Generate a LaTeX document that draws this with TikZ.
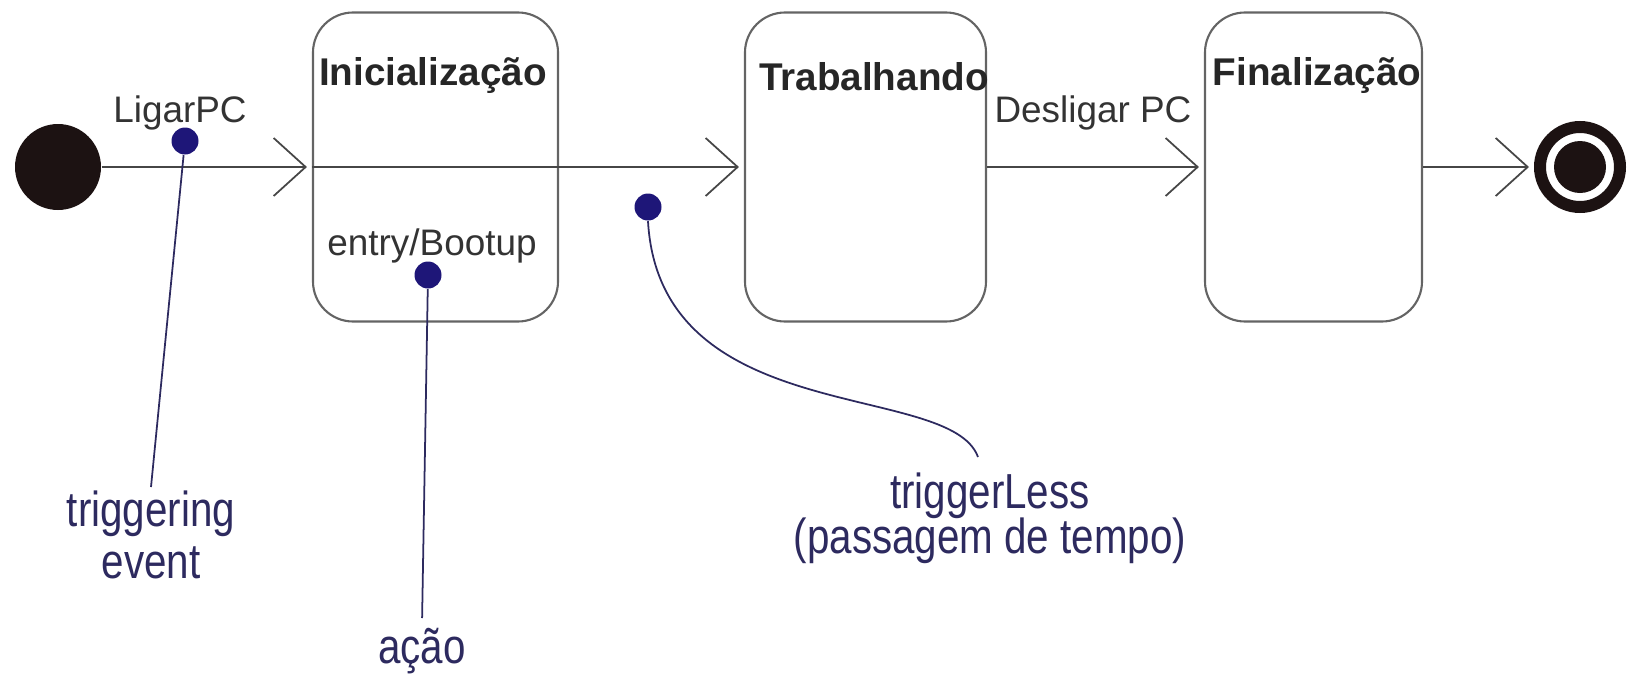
\documentclass[tikz,border=0pt]{standalone}
\usepackage{fontspec}
\setmainfont{Liberation Sans}
\newfontfamily\notefont[FakeStretch=0.82]{Liberation Sans}
\definecolor{statedark}{RGB}{28, 18, 18}
\definecolor{dotblue}{RGB}{30, 22, 120}
\definecolor{notenavy}{RGB}{45, 42, 95}
\definecolor{linegray}{RGB}{70, 70, 70}
\definecolor{boxgray}{RGB}{100, 100, 100}
\usetikzlibrary{arrows.meta, positioning, calc}

\begin{document}
\begin{tikzpicture}[
    statebox/.style={draw=boxgray, line width=0.6pt, rounded corners=0.4cm, minimum height=3.09cm, inner sep=0pt},
    statename/.style={font=\fontsize{11}{13}\selectfont\bfseries, text=black!85, anchor=base, inner sep=0pt},
    evtext/.style={font=\fontsize{10.5}{12.6}\selectfont, text=black!80, anchor=base, inner sep=0pt},
    notedot/.style={circle, fill=dotblue, minimum size=0.27cm, inner sep=0pt},
    note/.style={font=\notefont\fontsize{14}{14.7}\selectfont, text=notenavy, align=center, inner sep=1pt, anchor=north},
    trans/.style={draw=linegray, line width=0.5pt, -{Straight Barb[length=0.32cm, width=0.58cm]}, shorten >=0.05cm},
    noteline/.style={draw=notenavy, line width=0.5pt}
  ]
  \useasboundingbox (0, 0) rectangle (16.27, -6.75);

  % States
  \node[circle, fill=statedark, minimum size=0.86cm, inner sep=0pt] (start) at (0.58, -1.67) {};
  \node[statebox, minimum width=2.45cm] (ini) at (4.355, -1.67) {};
  \node[statebox, minimum width=2.41cm] (trab) at (8.655, -1.67) {};
  \node[statebox, minimum width=2.17cm] (fin) at (13.135, -1.67) {};
  \node[circle, draw=statedark, line width=0.12cm, minimum size=0.80cm, inner sep=0pt] (stop) at (15.80, -1.67) {};
  \fill[statedark] (stop.center) circle (0.26cm);

  \node[statename] (iniName) at (4.33, -0.85) {Inicialização};
  \node[statename] (trabName) at (8.74, -0.90) {Trabalhando};
  \node[statename] (finName) at (13.17, -0.85) {Finalização};
  \node[evtext] (entry) at (4.32, -2.55) {entry/Bootup};

  % Transitions
  \node[evtext] (ligar) at (1.80, -1.22) {LigarPC};
  \node[evtext] (desligar) at (10.93, -1.22) {Desligar PC};
  \draw[trans] (start) -- (ini.west);
  \draw[trans] (ini.west) -- (trab.west);
  \draw[trans] (trab.east) -- (fin.west);
  \draw[trans] (fin.east) -- (stop);

  % Notes
  \node[notedot] (ligDot) at (1.85, -1.41) {};
  \node[notedot] (entDot) at (4.28, -2.75) {};
  \node[notedot] (tlDot) at (6.48, -2.07) {};

  \node[note] (trigEv) at (1.51, -4.87) {triggering\\event};
  \node[note] (acao) at (4.22, -6.24) {ação};
  \node[note] (trigLess) at (9.90, -4.69) {triggerLess\\[-2pt](passagem de tempo)};

  \draw[noteline] (ligDot) -- (trigEv.north);
  \draw[noteline, shorten >=0.06cm] (entDot) -- (acao.north);
  \draw[noteline] (tlDot.south) .. controls (6.60, -4.30) and (9.50, -3.80) .. ($(trigLess.north)+(-0.12, 0.12)$);
\end{tikzpicture}
\end{document}
